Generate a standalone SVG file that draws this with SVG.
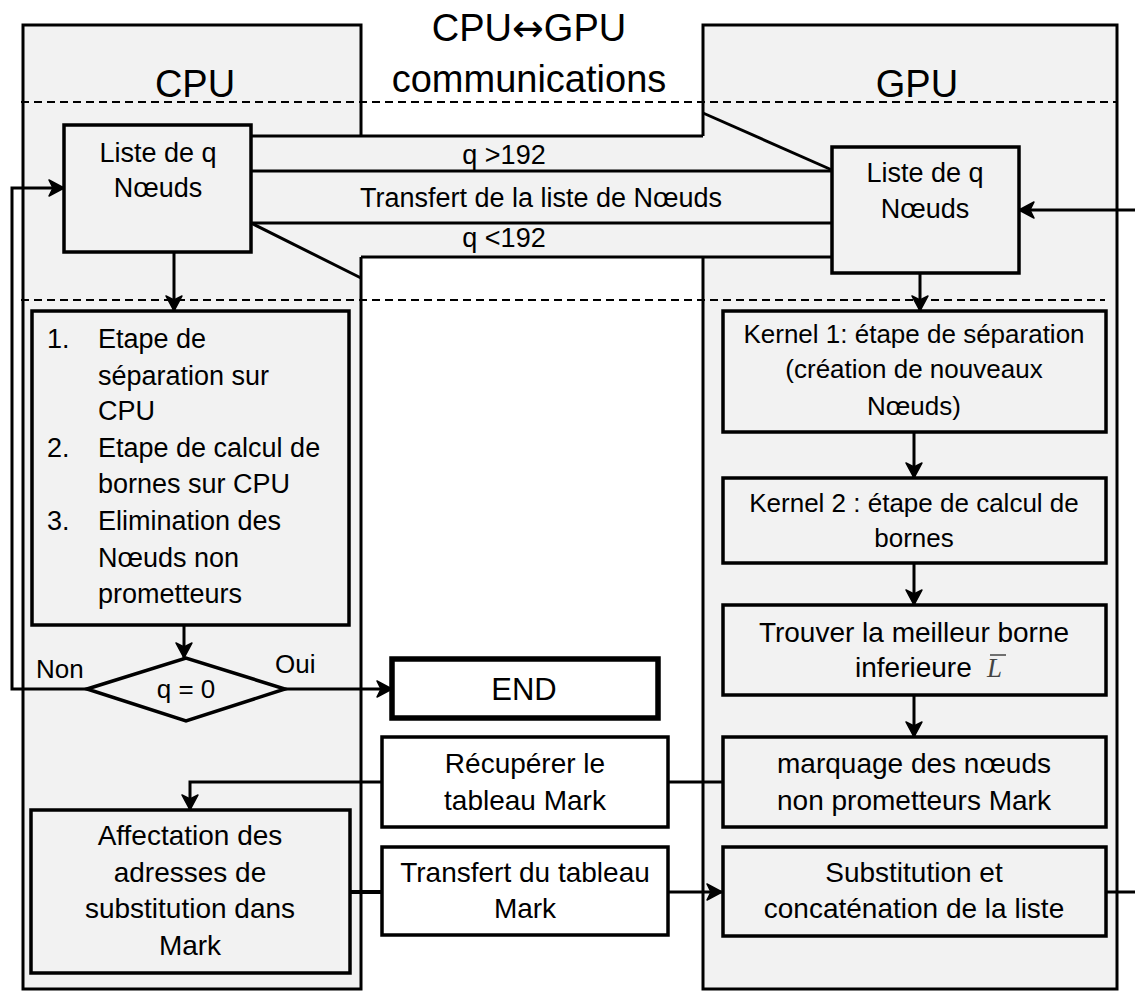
<svg xmlns="http://www.w3.org/2000/svg" width="1135" height="991" viewBox="0 0 1135 991">
<style>
text{font-family:"Liberation Sans",Arial,sans-serif;fill:#000}
.t{font-size:27px}
.m{text-anchor:middle}
.big{font-size:38px;text-anchor:middle}
.panel{fill:#f2f2f2;stroke:none}
.edge{fill:none;stroke:#000;stroke-width:3}
.box{fill:#f2f2f2;stroke:#000;stroke-width:3.5}
.wbox{fill:#fff;stroke:#000;stroke-width:3.5}
.dash{stroke:#000;stroke-width:2;stroke-dasharray:8 5;fill:none}
.c{fill:none;stroke:#000;stroke-width:3}
</style>
<defs>
<marker id="ah" markerUnits="userSpaceOnUse" markerWidth="20" markerHeight="20" viewBox="0 0 20 20" refX="18" refY="10" orient="auto">
<path d="M3,2 L18,10 L3,18 L7,10 z" fill="#000" stroke="#000" stroke-width="1.5" stroke-linejoin="round"/>
</marker>
</defs>
<rect width="1135" height="991" fill="#fff"/>
<g id="panels">
<rect class="panel" x="23" y="25" width="338" height="964"/>
<rect class="panel" x="703" y="25" width="414" height="964"/>
<rect class="panel" x="361" y="136" width="342" height="121"/>
<path class="edge" d="M361,136 V25 H23 V989 H361 V257"/>
<path class="edge" d="M703,136 V25 H1117 V989 H703 V257"/>
<line class="dash" x1="21" y1="102" x2="1117" y2="102"/>
<line class="dash" x1="21" y1="300" x2="1105" y2="300"/>
<text class="big" x="195" y="97">CPU</text>
<text class="big" x="917" y="97">GPU</text>
<text class="big" x="529" y="41">CPU<tspan style="font-family:'DejaVu Sans',sans-serif">↔</tspan>GPU</text>
<text class="big" x="529" y="92">communications</text>
</g>
<g id="connectors">
<line class="c" x1="251" y1="136" x2="703" y2="136"/>
<line class="c" x1="251" y1="171" x2="832" y2="171"/>
<line class="c" x1="251" y1="223" x2="832" y2="223"/>
<line class="c" x1="361" y1="257" x2="832" y2="257"/>
<line class="c" x1="251" y1="223" x2="361" y2="278"/>
<line class="c" x1="703" y1="113" x2="832" y2="170"/>
<text class="t m" x="504" y="164">q &gt;192</text>
<text class="t m" x="541" y="207">Transfert de la liste de Nœuds</text>
<text class="t m" x="504" y="247">q &lt;192</text>
<line class="c" x1="174" y1="252" x2="174" y2="311" marker-end="url(#ah)"/>
<line class="c" x1="184" y1="625" x2="184" y2="658" marker-end="url(#ah)"/>
<path class="c" d="M87,689 H12 V188 H64" marker-end="url(#ah)"/>
<line class="c" x1="285" y1="689" x2="392" y2="689" marker-end="url(#ah)"/>
<text class="t" x="36" y="678" style="font-size:26px">Non</text>
<text class="t" x="275" y="673" style="font-size:26px">Oui</text>
<line class="c" x1="920" y1="273" x2="920" y2="311" marker-end="url(#ah)"/>
<line class="c" x1="914" y1="432" x2="914" y2="478" marker-end="url(#ah)"/>
<line class="c" x1="914" y1="563" x2="914" y2="605" marker-end="url(#ah)"/>
<line class="c" x1="914" y1="695" x2="914" y2="737" marker-end="url(#ah)"/>
<line class="c" x1="722" y1="782" x2="668" y2="782"/>
<path class="c" d="M382,782 H190 V810" marker-end="url(#ah)"/>
<line class="c" x1="350" y1="892" x2="382" y2="892" style="stroke-width:4"/>
<line class="c" x1="668" y1="892" x2="722" y2="892" marker-end="url(#ah)"/>
<path class="c" d="M1106,892 H1145 V210 H1019" marker-end="url(#ah)"/>
</g>
<g id="cpu-list">
<rect class="box" x="64" y="125" width="187" height="127"/>
<text class="t m" x="158" y="162">Liste de q</text>
<text class="t m" x="158" y="197">Nœuds</text>
</g>
<g id="gpu-list">
<rect class="box" x="832" y="147" width="187" height="126"/>
<text class="t m" x="925" y="182">Liste de q</text>
<text class="t m" x="925" y="218">Nœuds</text>
</g>
<g id="cpu-steps">
<rect class="box" x="32" y="311" width="317" height="314"/>
<text class="t" x="47" y="348">1.</text>
<text class="t" x="98" y="348">Etape de</text>
<text class="t" x="98" y="385">séparation sur</text>
<text class="t" x="98" y="420">CPU</text>
<text class="t" x="47" y="457">2.</text>
<text class="t" x="98" y="457">Etape de calcul de</text>
<text class="t" x="98" y="493">bornes sur CPU</text>
<text class="t" x="47" y="530">3.</text>
<text class="t" x="98" y="530">Elimination des</text>
<text class="t" x="98" y="567">Nœuds non</text>
<text class="t" x="98" y="603">prometteurs</text>
</g>
<g id="decision">
<polygon points="87,689 186,658 285,689 186,721" fill="#f2f2f2" stroke="#000" stroke-width="3.5"/>
<text class="t m" x="186" y="698" style="font-size:26px">q = 0</text>
</g>
<g id="end">
<rect x="392" y="659" width="266" height="59" fill="#fff" stroke="#000" stroke-width="5.5"/>
<text class="m" x="524" y="700" style="font-size:31px">END</text>
</g>
<g id="recuperer">
<rect class="wbox" x="382" y="737" width="286" height="90"/>
<text class="t m" x="525" y="773" style="font-size:28px">Récupérer le</text>
<text class="t m" x="525" y="810" style="font-size:28px">tableau Mark</text>
</g>
<g id="transfert-mark">
<rect class="wbox" x="382" y="847" width="286" height="88"/>
<text class="t m" x="525" y="882" style="font-size:28px">Transfert du tableau</text>
<text class="t m" x="525" y="918" style="font-size:28px">Mark</text>
</g>
<g id="affectation">
<rect class="box" x="31" y="810" width="319" height="163"/>
<text class="t m" x="190" y="845" style="font-size:28px">Affectation des</text>
<text class="t m" x="190" y="882" style="font-size:28px">adresses de</text>
<text class="t m" x="190" y="918" style="font-size:28px">substitution dans</text>
<text class="t m" x="190" y="955" style="font-size:28px">Mark</text>
</g>
<g id="kernel1">
<rect class="box" x="723" y="311" width="383" height="121"/>
<text class="t m" x="914" y="343" style="font-size:26px">Kernel 1: étape de séparation</text>
<text class="t m" x="914" y="378" style="font-size:26px">(création de nouveaux</text>
<text class="t m" x="914" y="415" style="font-size:26px">Nœuds)</text>
</g>
<g id="kernel2">
<rect class="box" x="723" y="478" width="383" height="85"/>
<text class="t m" x="914" y="512" style="font-size:26px">Kernel 2 : étape de calcul de</text>
<text class="t m" x="914" y="547" style="font-size:26px">bornes</text>
</g>
<g id="trouver">
<rect class="box" x="723" y="605" width="383" height="90"/>
<text class="t m" x="914" y="642" style="font-size:28px">Trouver la meilleur borne</text>
<text class="t" x="855" y="677" style="font-size:28px">inferieure</text>
<text x="987" y="677" style="font-family:'Liberation Serif',serif;font-style:italic;font-size:27px;fill:#444">L</text>
<line x1="990" y1="655" x2="1006" y2="655" stroke="#444" stroke-width="1.5"/>
</g>
<g id="marquage">
<rect class="box" x="723" y="737" width="383" height="90"/>
<text class="t m" x="914" y="773" style="font-size:28px">marquage des nœuds</text>
<text class="t m" x="914" y="810" style="font-size:28px">non prometteurs Mark</text>
</g>
<g id="substitution">
<rect class="box" x="723" y="847" width="383" height="89"/>
<text class="t m" x="914" y="882" style="font-size:28px">Substitution et</text>
<text class="t m" x="914" y="918" style="font-size:28px">concaténation de la liste</text>
</g>
</svg>
